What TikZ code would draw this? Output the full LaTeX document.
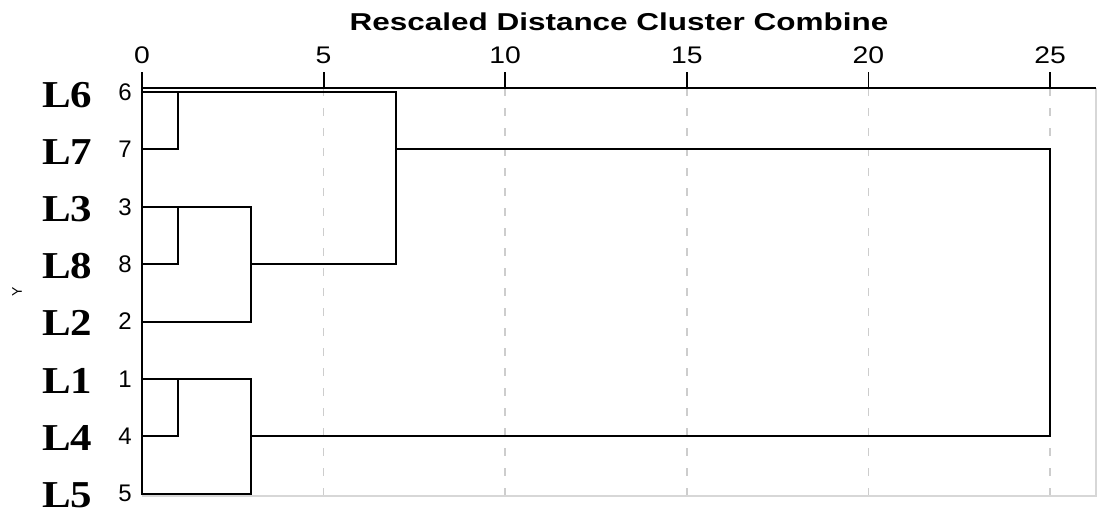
\documentclass[tikz,border=0pt]{standalone}
\usepackage{fontspec}
\setmainfont{Liberation Serif}
\newfontfamily\plotfont{Liberation Sans}
\usepackage{graphicx}
\usetikzlibrary{positioning}
\definecolor{gridgray}{RGB}{205,205,205}
\definecolor{framegray}{RGB}{215,215,215}
\newcommand{\dpos}[1]{142+36.32*#1}
\newcommand{\widen}[2]{\scalebox{#1}[1]{#2}}
\tikzset{
  link/.style={black, line width=2pt},
  axisline/.style={black, line width=1.8pt},
  tickmark/.style={black, line width=1.8pt},
  gridline/.style={gridgray, line width=1.6pt, dash pattern=on 8pt off 12pt},
  framebox/.style={framegray, line width=1.4pt},
  ticklabel/.style={inner sep=0pt, font=\plotfont\fontsize{24}{24}\selectfont},
  leafnum/.style={inner sep=0pt, font=\plotfont\fontsize{24}{24}\selectfont},
  leafname/.style={inner sep=0pt, anchor=base west, font=\bfseries\fontsize{38}{38}\selectfont},
  titlelabel/.style={inner sep=0pt, anchor=base, font=\plotfont\bfseries\fontsize{24.4}{24.4}\selectfont}
}

\begin{document}
\begin{tikzpicture}[x=1pt, y=-1pt]
        \useasboundingbox (0,0) rectangle (1098,512);
        % title and axis
        \node[titlelabel] (title) at (619,30) {\widen{1.29}{Rescaled Distance Cluster Combine}};
        \foreach \d in {0,5,...,25} {
            \coordinate (t\d) at ({\dpos{\d}},88);
            \draw[tickmark] (t\d) -- ++(0,-16);
            \node[ticklabel, above=24pt of t\d] (tl\d) {\widen{1.18}{\d}};
        }
        \foreach \d in {5,10,...,25}
            \draw[gridline] (t\d) -- (t\d |- 0,495);
        \draw[framebox] (t0 |- 0,496) -- (1096,496) -- (1096,88);
        \draw[axisline] (t0) -- (1096,88);
        \draw[axisline] (t0) -- (t0 |- 0,495);
        \node[rotate=90, inner sep=0pt, font=\plotfont\fontsize{14}{14}\selectfont] (ylab) at (17,292) {Y};
        % merge levels
        \foreach \d in {1,3,7,25}
            \coordinate (d\d) at ({\dpos{\d}},88);
        % leaves
        \foreach \n/\i in {6/1,7/2,3/3,8/4,2/5,1/6,4/7,5/8} {
            \coordinate (l\n) at (142,{92+57.4*(\i-1)});
            \node[leafnum, left=10pt of l\n] (num\n) {\n};
            \node[leafname] (name\n) at (42,{107+57.2*(\i-1)}) {\widen{1.13}{L\n}};
        }
        % dendrogram
        \draw[link] (l7) -| (l6 -| d1);
        \draw[link] (l6) -| (l8 -| d7) -- (l8 -| d3);
        \draw[link] (l8) -| (l3 -| d1);
        \draw[link] (l3) -| (l2 -| d3) -- (l2);
        \draw[link] (l4) -| (l1 -| d1);
        \draw[link] (l1) -| (l5 -| d3) -- (l5);
        \draw[link] (l7 -| d7) -| (l4 -| d25) -- (l4 -| d3);
\end{tikzpicture}
\end{document}
